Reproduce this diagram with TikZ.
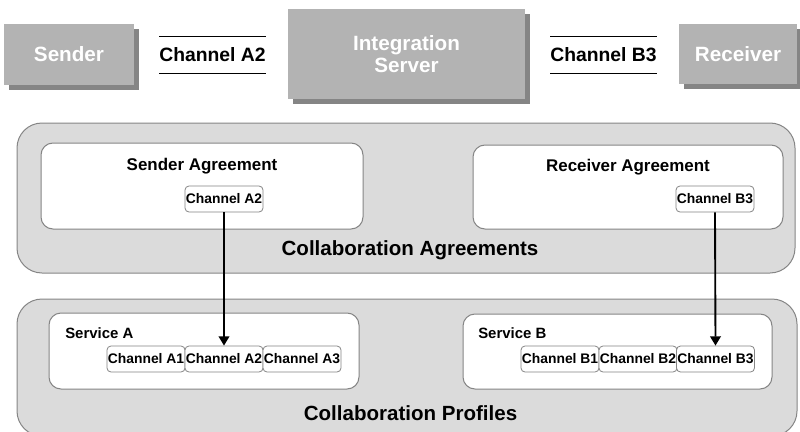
\documentclass[tikz,border=0pt]{standalone}
\usepackage{fontspec}
\setmainfont{Liberation Sans}
\usetikzlibrary{shadows,arrows.meta}
\definecolor{topfill}{HTML}{B3B3B3}
\definecolor{topshadow}{HTML}{858585}
\definecolor{outerfill}{HTML}{DBDBDB}
\definecolor{edgegray}{HTML}{858585}
\tikzset{
  topbox/.style={fill=topfill, inner sep=0pt, align=center, text=white,
    font=\fontsize{15.5}{17}\selectfont\bfseries,
    general shadow={fill=topshadow, shadow xshift=3.75pt, shadow yshift=-3.75pt}},
  chanlabel/.style={inner sep=0pt, minimum width=78.75pt, minimum height=27pt,
    font=\fontsize{14.5}{16}\selectfont\bfseries},
  outerbox/.style={fill=outerfill, draw=edgegray, line width=0.75pt, rounded corners=18.75pt, inner sep=0pt},
  innerbox/.style={fill=white, draw=edgegray, line width=0.75pt, rounded corners=9pt, inner sep=0pt},
  chanbox/.style={fill=white, draw=edgegray, line width=0.6pt, rounded corners=3pt, inner sep=0pt,
    minimum width=58.5pt, minimum height=19.5pt, font=\fontsize{10.4}{12}\selectfont\bfseries},
  titletext/.style={font=\fontsize{12.7}{14}\selectfont\bfseries},
  bigtext/.style={font=\fontsize{15.4}{17}\selectfont\bfseries},
  svctext/.style={font=\fontsize{11.2}{13}\selectfont\bfseries, anchor=west, inner sep=0pt},
  link/.style={line width=1.4pt, -{Triangle[length=7pt,width=8pt]}}
}
\begin{document}
\begin{tikzpicture}[x=0.75pt,y=-0.75pt]
\useasboundingbox (0,0) rectangle (800,432);
\clip (0,0) rectangle (800,432);
% top row
\node[topbox, minimum width=97.5pt, minimum height=45.75pt] (sender) at (69,54.5) {Sender};
\node[topbox, minimum width=177.75pt, minimum height=67.5pt] (server) at (406.5,54) {Integration\\[-1pt]Server};
\node[topbox, minimum width=88.5pt, minimum height=45pt] (receiver) at (738,54) {Receiver};
\node[chanlabel] (ta2) at (212.5,55) {Channel A2};
\draw[line width=0.75pt] (ta2.north west) -- (ta2.north east);
\draw[line width=0.75pt] (ta2.south west) -- (ta2.south east);
\node[chanlabel] (tb3) at (603.5,55) {Channel B3};
\draw[line width=0.75pt] (tb3.north west) -- (tb3.north east);
\draw[line width=0.75pt] (tb3.south west) -- (tb3.south east);
% agreements
\node[outerbox, minimum width=583.5pt, minimum height=112.5pt] (agr) at (406,198) {};
\node[innerbox, minimum width=241.5pt, minimum height=64.5pt] (sagr) at (202,186) {};
\node[innerbox, minimum width=232.5pt, minimum height=63pt] (ragr) at (628,187) {};
\node[titletext] (sagrt) at (202,166) {Sender Agreement};
\node[titletext] (ragrt) at (628,167) {Receiver Agreement};
\node[chanbox] (sa2) at (224,199) {Channel A2};
\node[chanbox] (rb3) at (715,199) {Channel B3};
\node[bigtext] (agrt) at (410,250) {Collaboration Agreements};
% profiles
\node[outerbox, minimum width=585pt, minimum height=102.75pt] (prof) at (407,367.5) {};
\node[innerbox, minimum width=232.5pt, minimum height=57pt] (svca) at (204,351) {};
\node[innerbox, minimum width=231.75pt, minimum height=56.25pt] (svcb) at (617.5,351.5) {};
\node[svctext] (svcat) at (65,333) {Service A};
\node[svctext] (svcbt) at (478,333) {Service B};
\node[chanbox] (a1) at (146,359) {Channel A1};
\node[chanbox] (a2) at (224,359) {Channel A2};
\node[chanbox] (a3) at (302,359) {Channel A3};
\node[chanbox] (b1) at (560,359) {Channel B1};
\node[chanbox] (b2) at (638,359) {Channel B2};
\node[chanbox] (b3) at (715.5,359) {Channel B3};
\node[bigtext] (proft) at (410.5,413) {Collaboration Profiles};
% links
\draw[link] (sa2.south) -- (a2.north);
\draw[link] (rb3.south) -- (b3.north);
\end{tikzpicture}
\end{document}
